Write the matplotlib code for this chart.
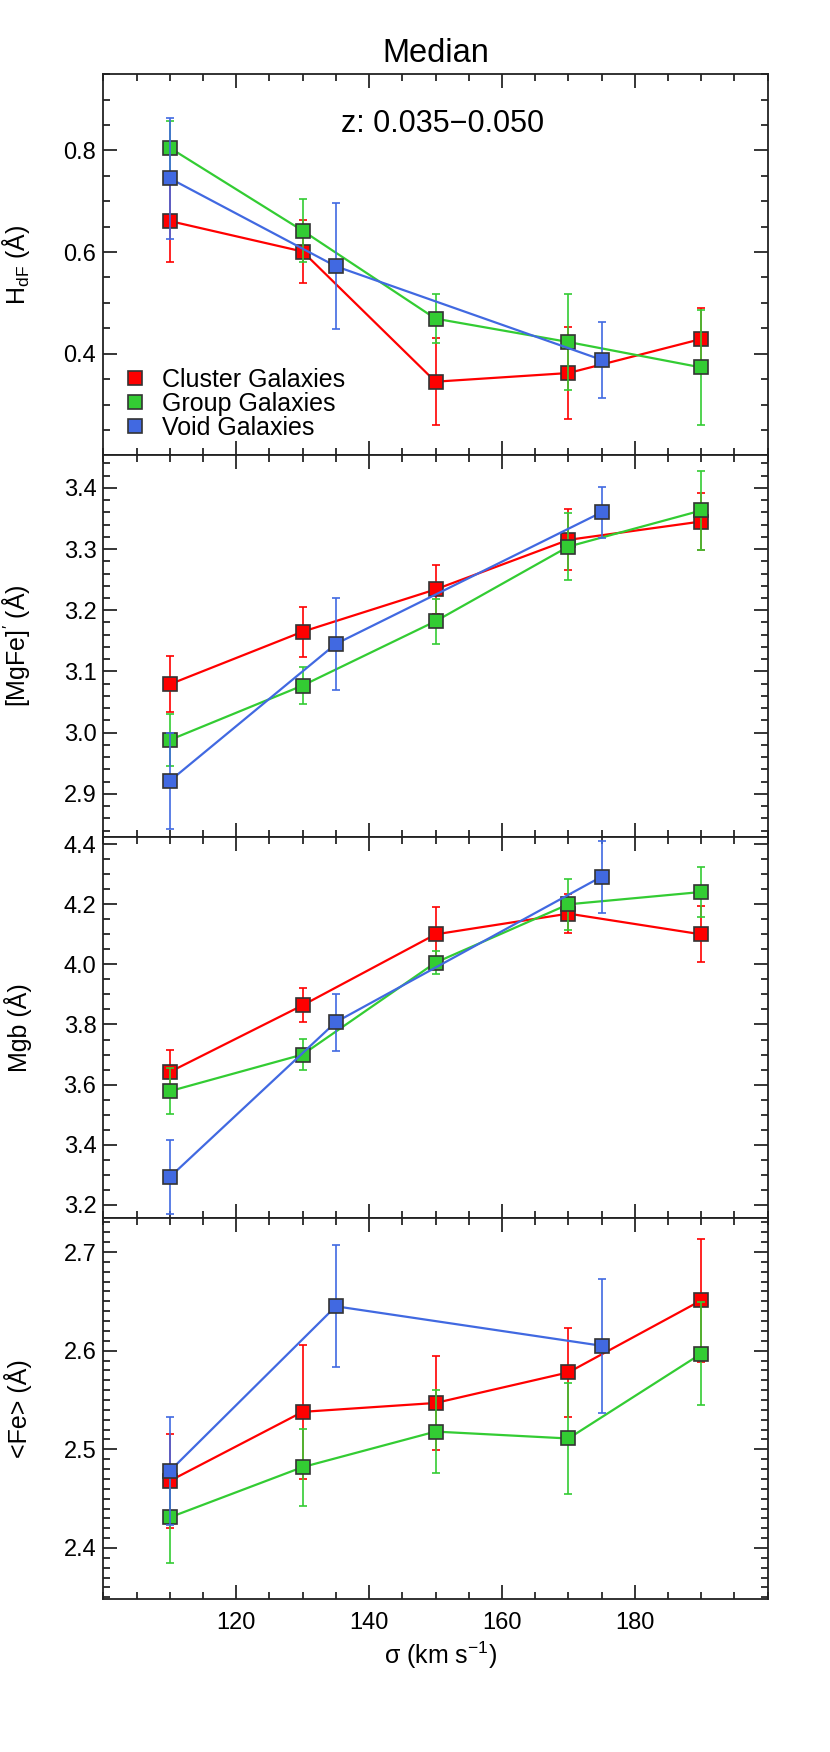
import numpy as np
import matplotlib
matplotlib.use('Agg')
import matplotlib.pyplot as plt
from matplotlib.ticker import MultipleLocator, FixedLocator

plt.rcParams['font.family'] = ['Liberation Sans', 'DejaVu Sans']
plt.rcParams['mathtext.default'] = 'regular'

# sigma bins
sigma = [110, 130, 150, 170, 190]
sigma_void = [110, 135, 175]

# HdF
hdf_cluster = [0.661, 0.601, 0.345, 0.362, 0.429]
hdf_cluster_err = [0.080, 0.062, 0.086, 0.090, 0.060]
hdf_group = [0.805, 0.642, 0.469, 0.423, 0.373]
hdf_group_err = [0.053, 0.062, 0.048, 0.095, 0.113]
hdf_void = [0.745, 0.572, 0.388]
hdf_void_err = [0.119, 0.124, 0.075]

# [MgFe]'
mgfe_cluster = [3.079, 3.165, 3.234, 3.315, 3.345]
mgfe_cluster_err = [0.046, 0.041, 0.040, 0.050, 0.047]
mgfe_group = [2.988, 3.077, 3.182, 3.304, 3.363]
mgfe_group_err = [0.042, 0.030, 0.037, 0.055, 0.065]
mgfe_void = [2.921, 3.145, 3.360]
mgfe_void_err = [0.078, 0.075, 0.042]

# Mgb
mgb_cluster = [3.642, 3.864, 4.100, 4.169, 4.100]
mgb_cluster_err = [0.073, 0.056, 0.090, 0.066, 0.093]
mgb_group = [3.578, 3.700, 4.006, 4.200, 4.241]
mgb_group_err = [0.077, 0.053, 0.037, 0.085, 0.083]
mgb_void = [3.292, 3.808, 4.292]
mgb_void_err = [0.122, 0.095, 0.120]

# <Fe>
fe_cluster = [2.468, 2.538, 2.547, 2.578, 2.651]
fe_cluster_err = [0.048, 0.068, 0.048, 0.045, 0.062]
fe_group = [2.431, 2.482, 2.518, 2.511, 2.597]
fe_group_err = [0.046, 0.039, 0.042, 0.056, 0.052]
fe_void = [2.478, 2.645, 2.605]
fe_void_err = [0.055, 0.062, 0.068]

ylabels = ['H$_{dF}$ (\u00c5)', "[MgFe]$^{\\prime}$ (\u00c5)", 'Mgb (\u00c5)', '<Fe> (\u00c5)']
ylims = [(0.2, 0.95), (2.83, 3.453), (3.156, 4.425), (2.348, 2.7345)]
yticks = [[0.4, 0.6, 0.8],
          [2.9, 3.0, 3.1, 3.2, 3.3, 3.4],
          [3.2, 3.4, 3.6, 3.8, 4.0, 4.2, 4.4],
          [2.4, 2.5, 2.6, 2.7]]
yminor = [0.05, 0.02, 0.05, 0.01]
xticks = [120, 140, 160, 180]

labels = ['Cluster Galaxies', 'Group Galaxies', 'Void Galaxies']
colors = ['#ff0000', '#33cc33', '#4169e1']


def draw_series(ax, x, y, err, color, label, z):
    ax.errorbar(x, y, yerr=err, fmt='none', ecolor=color, elinewidth=1.2,
                capsize=3.2, capthick=1.2, zorder=z)
    ax.plot(x, y, '-s', color=color, lw=1.6, ms=10, mfc=color,
            mec='#333333', mew=1.2, label=label, zorder=z + 0.5)


def style_axis(ax, i):
    ax.set_xlim(100, 200)
    ax.set_ylim(*ylims[i])
    ax.xaxis.set_major_locator(FixedLocator(xticks))
    ax.xaxis.set_minor_locator(MultipleLocator(5))
    ax.yaxis.set_major_locator(FixedLocator(yticks[i]))
    ax.yaxis.set_minor_locator(MultipleLocator(yminor[i]))
    ax.tick_params(which='both', direction='in', top=True, right=True,
                   width=1.1, labelsize=17)
    ax.tick_params(which='major', length=10)
    ax.tick_params(which='minor', length=5)
    ax.tick_params(axis='y', pad=5)
    ax.tick_params(axis='x', pad=9)
    for s in ax.spines.values():
        s.set_linewidth(1.3)
        s.set_color('#222222')
    ax.set_ylabel(ylabels[i], fontsize=18)
    ax.yaxis.set_label_coords(-0.107, 0.5)


def main():
    fig = plt.figure(figsize=(8.3, 17.52), dpi=100)
    left = 103.3 / 830
    width = 664.4 / 830
    height = 381.3 / 1752
    bottom0 = 1 - 1599.3 / 1752

    data = [
        (hdf_cluster, hdf_cluster_err, hdf_group, hdf_group_err, hdf_void, hdf_void_err),
        (mgfe_cluster, mgfe_cluster_err, mgfe_group, mgfe_group_err, mgfe_void, mgfe_void_err),
        (mgb_cluster, mgb_cluster_err, mgb_group, mgb_group_err, mgb_void, mgb_void_err),
        (fe_cluster, fe_cluster_err, fe_group, fe_group_err, fe_void, fe_void_err),
    ]

    axes = []
    for i in range(4):
        ax = fig.add_axes([left, bottom0 + (3 - i) * height, width, height])
        c, ce, g, ge, v, ve = data[i]
        draw_series(ax, sigma, c, ce, colors[0], labels[0], 3)
        draw_series(ax, sigma, g, ge, colors[1], labels[1], 4)
        draw_series(ax, sigma_void, v, ve, colors[2], labels[2], 5)
        style_axis(ax, i)
        if i < 3:
            ax.tick_params(labelbottom=False)
        axes.append(ax)

    ax1 = axes[0]
    ax1.text(151, 0.837, 'z: 0.035\u22120.050', fontsize=22, ha='center', va='baseline')
    leg = ax1.legend(loc='lower left', bbox_to_anchor=(0.036, 0.04), frameon=False,
                     fontsize=18, handlelength=0.6, handletextpad=0.8,
                     labelspacing=0.0, borderpad=0, borderaxespad=0)
    for h in leg.legend_handles:
        h.set_linestyle('none')

    fig.text(435.5 / 830, 1 - 61.7 / 1752, 'Median', fontsize=23.5, ha='center', va='baseline')

    axes[3].set_xlabel('\u03c3 (km s$^{-1}$)', fontsize=18)
    axes[3].xaxis.set_label_coords(0.508, -0.107)

    fig.savefig('out.png', dpi=100)


main()
